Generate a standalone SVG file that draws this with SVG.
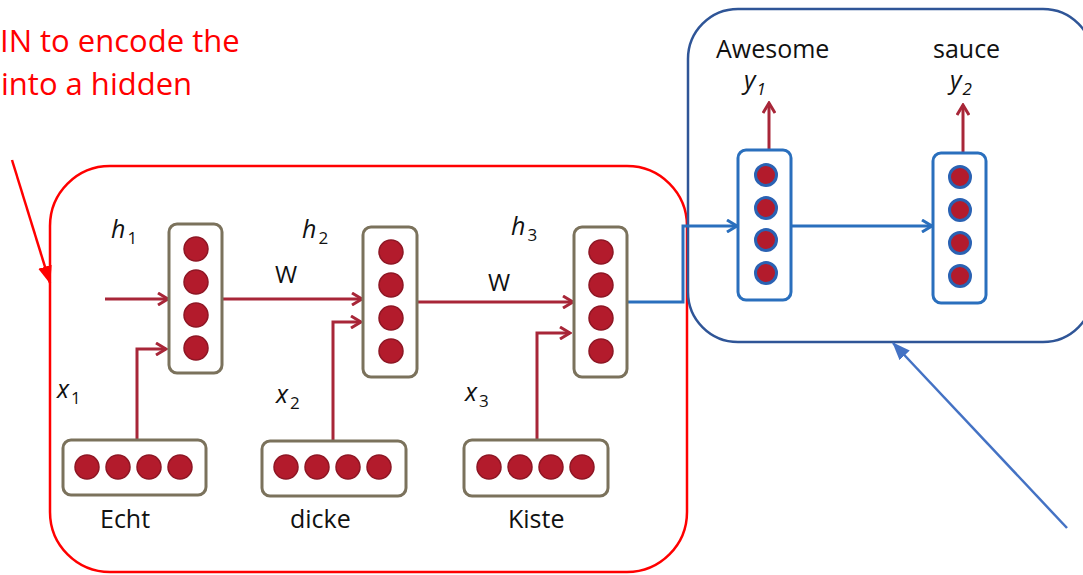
<svg xmlns="http://www.w3.org/2000/svg" width="1083" height="575" viewBox="0 0 1083 575">
<style>
.lbl{font-family:"Open Sans","Liberation Sans",sans-serif;font-size:25px;fill:#111}
.ital{font-family:"Open Sans","Liberation Sans",sans-serif;font-size:25px;font-style:italic;fill:#111}
.sub{font-size:17px;font-style:normal}
.subi{font-size:17px}
.note{font-family:"Open Sans","Liberation Sans",sans-serif;font-size:31px;fill:#ff0000}
.ebox{fill:#fff;stroke:#7b725c;stroke-width:3}
.dbox{fill:#fff;stroke:#2a6fbd;stroke-width:3}
.rc{fill:#b31b2c;stroke:#8e1624;stroke-width:1.5}
.bc{fill:#b31b2c;stroke:#2a62b3;stroke-width:3}
.rarr{fill:none;stroke:#a82638;stroke-width:3;marker-end:url(#redhead)}
.barr{fill:none;stroke:#2a6fbd;stroke-width:3;marker-end:url(#bluehead)}
</style>
<defs>
<marker id="redhead" markerUnits="userSpaceOnUse" viewBox="0 0 14 14" refX="12" refY="7" markerWidth="14" markerHeight="14" orient="auto">
<path d="M2,1 L12,7 L2,13" fill="none" stroke="#a82638" stroke-width="3"/>
</marker>
<marker id="bluehead" markerUnits="userSpaceOnUse" viewBox="0 0 14 14" refX="12" refY="7" markerWidth="14" markerHeight="14" orient="auto">
<path d="M2,1 L12,7 L2,13" fill="none" stroke="#2a6fbd" stroke-width="3"/>
</marker>
<marker id="redfill" markerUnits="userSpaceOnUse" viewBox="0 0 18 14" refX="17" refY="7" markerWidth="18" markerHeight="14" orient="auto">
<path d="M0,0 L18,7 L0,14 Z" fill="#ff0000"/>
</marker>
<marker id="bluefill" markerUnits="userSpaceOnUse" viewBox="0 0 18 14" refX="17" refY="7" markerWidth="18" markerHeight="14" orient="auto">
<path d="M0,0 L18,7 L0,14 Z" fill="#4472c4"/>
</marker>
</defs>
<rect width="1083" height="575" fill="#fff"/>

<g id="note">
<text class="note" x="0" y="52">IN to encode the</text>
<text class="note" x="1" y="95">into a hidden</text>
</g>

<g id="encoder-frame">
<rect x="50" y="166" width="637" height="406" rx="60" ry="60" fill="none" stroke="#ff0000" stroke-width="2.5"/>
</g>
<g id="decoder-frame">
<rect x="688" y="9" width="405" height="333" rx="50" ry="50" fill="none" stroke="#2f5597" stroke-width="2.5"/>
</g>

<g id="connectors">
<line x1="12" y1="160" x2="50" y2="283" stroke="#ff0000" stroke-width="2.5" marker-end="url(#redfill)"/>
<line x1="1067" y1="528" x2="893" y2="343" stroke="#4472c4" stroke-width="2.5" marker-end="url(#bluefill)"/>
<line class="rarr" x1="105" y1="299" x2="168" y2="299"/>
<path class="rarr" d="M137,440 V349 H166"/>
<line class="rarr" x1="222" y1="299" x2="362" y2="299"/>
<path class="rarr" d="M333,441 V322 H361"/>
<line class="rarr" x1="417" y1="302" x2="573" y2="302"/>
<path class="rarr" d="M537,440 V333 H570"/>
<line class="rarr" x1="769" y1="150" x2="769" y2="103"/>
<line class="rarr" x1="963" y1="153" x2="963" y2="105"/>
<path class="barr" d="M627,302 H683 V226 H737"/>
<line class="barr" x1="791" y1="226" x2="932" y2="226"/>
</g>

<g id="h1">
<rect class="ebox" x="169" y="224" width="53" height="149" rx="8"/>
<circle class="rc" cx="196" cy="249" r="12"/><circle class="rc" cx="196" cy="282" r="12"/><circle class="rc" cx="196" cy="315" r="12"/><circle class="rc" cx="196" cy="348" r="12"/>
<text class="ital" x="111" y="238">h<tspan class="sub" dx="2" dy="6">1</tspan></text>
</g>
<g id="h2">
<rect class="ebox" x="363" y="227" width="54" height="150" rx="8"/>
<circle class="rc" cx="391" cy="252" r="12"/><circle class="rc" cx="391" cy="285" r="12"/><circle class="rc" cx="391" cy="318" r="12"/><circle class="rc" cx="391" cy="351" r="12"/>
<text class="ital" x="302" y="238">h<tspan class="sub" dx="2" dy="6">2</tspan></text>
</g>
<g id="h3">
<rect class="ebox" x="574" y="227" width="53" height="150" rx="8"/>
<circle class="rc" cx="601" cy="252" r="12"/><circle class="rc" cx="601" cy="285" r="12"/><circle class="rc" cx="601" cy="318" r="12"/><circle class="rc" cx="601" cy="351" r="12"/>
<text class="ital" x="511" y="235">h<tspan class="sub" dx="2" dy="6">3</tspan></text>
</g>
<g id="w-labels">
<text class="lbl" x="275" y="283" style="font-size:24px">W</text>
<text class="lbl" x="488" y="291" style="font-size:24px">W</text>
</g>

<g id="x1">
<rect class="ebox" x="63" y="440" width="143" height="55" rx="8"/>
<circle class="rc" cx="87" cy="467" r="12"/><circle class="rc" cx="118" cy="467" r="12"/><circle class="rc" cx="149" cy="467" r="12"/><circle class="rc" cx="180" cy="467" r="12"/>
<text class="ital" x="57" y="398">x<tspan class="sub" dx="2" dy="6">1</tspan></text>
<text class="lbl" x="100" y="528">Echt</text>
</g>
<g id="x2">
<rect class="ebox" x="262" y="441" width="144" height="55" rx="8"/>
<circle class="rc" cx="286" cy="467" r="12"/><circle class="rc" cx="317" cy="467" r="12"/><circle class="rc" cx="348" cy="467" r="12"/><circle class="rc" cx="379" cy="467" r="12"/>
<text class="ital" x="276" y="403">x<tspan class="sub" dx="2" dy="6">2</tspan></text>
<text class="lbl" x="290" y="528">dicke</text>
</g>
<g id="x3">
<rect class="ebox" x="464" y="440" width="144" height="56" rx="8"/>
<circle class="rc" cx="489" cy="467" r="12"/><circle class="rc" cx="520" cy="467" r="12"/><circle class="rc" cx="551" cy="467" r="12"/><circle class="rc" cx="582" cy="467" r="12"/>
<text class="ital" x="465" y="401">x<tspan class="sub" dx="2" dy="6">3</tspan></text>
<text class="lbl" x="508" y="528">Kiste</text>
</g>

<g id="y1">
<rect class="dbox" x="738" y="150" width="53" height="150" rx="8"/>
<circle class="bc" cx="766" cy="175" r="10.5"/><circle class="bc" cx="766" cy="208" r="10.5"/><circle class="bc" cx="766" cy="240" r="10.5"/><circle class="bc" cx="766" cy="273" r="10.5"/>
<text class="ital" x="744" y="89">y<tspan class="subi" dx="1" dy="6">1</tspan></text>
<text class="lbl" x="716" y="58">Awesome</text>
</g>
<g id="y2">
<rect class="dbox" x="933" y="153" width="53" height="150" rx="8"/>
<circle class="bc" cx="960" cy="177" r="10.5"/><circle class="bc" cx="960" cy="210" r="10.5"/><circle class="bc" cx="960" cy="243" r="10.5"/><circle class="bc" cx="960" cy="276" r="10.5"/>
<text class="ital" x="950" y="89">y<tspan class="subi" dx="1" dy="6">2</tspan></text>
<text class="lbl" x="933" y="58">sauce</text>
</g>
</svg>
